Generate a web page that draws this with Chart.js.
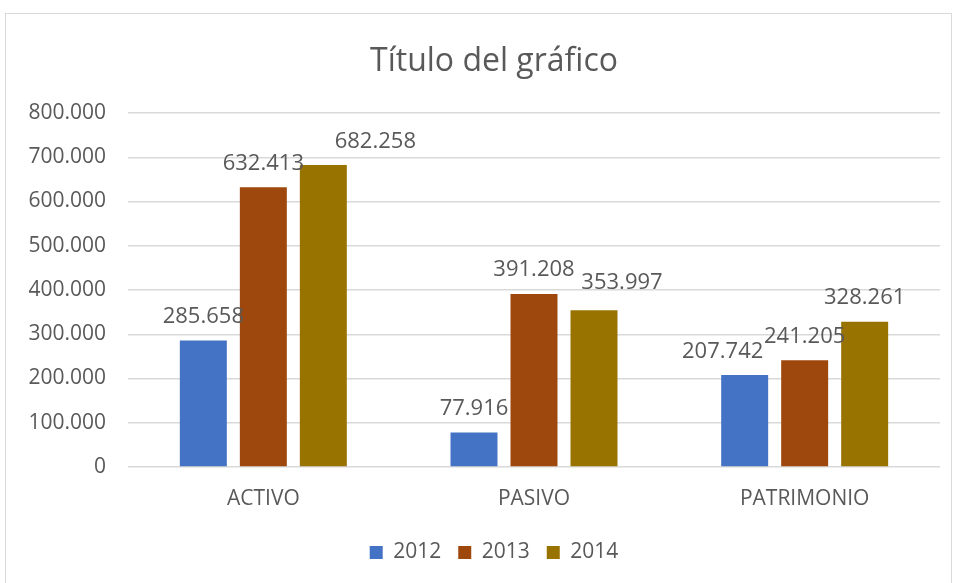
<!DOCTYPE html>
<html>
<head>
<meta charset="utf-8">
<script src="https://cdn.jsdelivr.net/npm/chart.js@4/dist/chart.umd.min.js"></script>
<style>
  html, body { margin: 0; padding: 0; background: #fff; }
  #wrap { position: relative; width: 958px; height: 583px; }
  #frame { position: absolute; left: 5px; top: 13px; width: 947px; height: 580px; border: 1px solid #d9d9d9; box-sizing: border-box; pointer-events: none; }
  canvas { position: absolute; left: 0; top: 0; }
</style>
</head>
<body>
<div id="wrap">
  <canvas id="c" width="958" height="583"></canvas>
  <div id="frame"></div>
</div>
<script>
const categories = ['ACTIVO', 'PASIVO', 'PATRIMONIO'];
const seriesNames = ['2012', '2013', '2014'];
const values2012 = [285658, 77916, 207742];
const values2013 = [632413, 391208, 241205];
const values2014 = [682258, 353997, 328261];
const yTicks = [0, 100000, 200000, 300000, 400000, 500000, 600000, 700000, 800000];
const colors = ['#4472C4', '#9E480E', '#997300'];

// manual label nudges (pixels) as placed in the original chart, per series
const labelShiftX = [[0, 0, -22], [0, 0, 0], [52, 28, 0]];
const labelShiftY = [[0, 0, 0], [0, 0, 0], [0, -4, 0]];

const FONT = "'Open Sans', 'Noto Sans', sans-serif";
const TEXT = '#595959';

function fmt(v) {
  return v.toLocaleString('de-DE');
}

const dataLabels = {
  id: 'dataLabels',
  afterLayout(chart) {
    // let the y tick labels extend left of the (narrowed) axis box without clipping
    chart.scales.y.left = 0;
  },
  afterDatasetsDraw(chart) {
    const ctx = chart.ctx;
    ctx.save();
    ctx.font = '22px ' + FONT;
    ctx.fillStyle = TEXT;
    ctx.textAlign = 'center';
    ctx.textBaseline = 'alphabetic';
    chart.data.datasets.forEach((ds, i) => {
      const meta = chart.getDatasetMeta(i);
      meta.data.forEach((bar, j) => {
        ctx.fillText(fmt(ds.data[j]), bar.x + labelShiftX[i][j], bar.y - 17.5 + labelShiftY[i][j]);
      });
    });
    ctx.restore();
  }
};

new Chart(document.getElementById('c'), {
  type: 'bar',
  data: {
    labels: categories,
    datasets: [
      { label: seriesNames[0], data: values2012, backgroundColor: colors[0] },
      { label: seriesNames[1], data: values2013, backgroundColor: colors[1] },
      { label: seriesNames[2], data: values2014, backgroundColor: colors[2] }
    ]
  },
  options: {
    responsive: false,
    animation: false,
    devicePixelRatio: 1,
    layout: { padding: { left: 48, right: 18, top: 0, bottom: 10 } },
    datasets: { bar: { categoryPercentage: 0.665, barPercentage: 0.783 } },
    plugins: {
      title: {
        display: true,
        text: 'Título del gráfico',
        color: TEXT,
        font: { family: FONT, size: 32, weight: 'normal' },
        padding: { top: 43, bottom: 31.6 }
      },
      legend: {
        display: true,
        position: 'bottom',
        labels: {
          color: TEXT,
          font: { family: FONT, size: 21 },
          boxWidth: 13,
          boxHeight: 13,
          padding: 17
        }
      },
      tooltip: { enabled: false }
    },
    scales: {
      x: {
        grid: { display: false, drawTicks: false },
        border: { display: false },
        ticks: { color: TEXT, font: { family: FONT, size: 21 }, padding: 19, maxRotation: 0 },
        afterFit(scale) { scale.height = 58; }
      },
      y: {
        min: 0,
        max: 800000,
        afterBuildTicks(scale) { scale.ticks = yTicks.map(v => ({ value: v })); },
        grid: { color: '#d9d9d9', lineWidth: 1.5, drawTicks: false },
        border: { display: false },
        ticks: { color: TEXT, font: { family: FONT, size: 21 }, padding: 22, callback: v => fmt(v) },
        afterFit(scale) { scale.width = 80; }
      }
    }
  },
  plugins: [dataLabels]
});
</script>
</body>
</html>
